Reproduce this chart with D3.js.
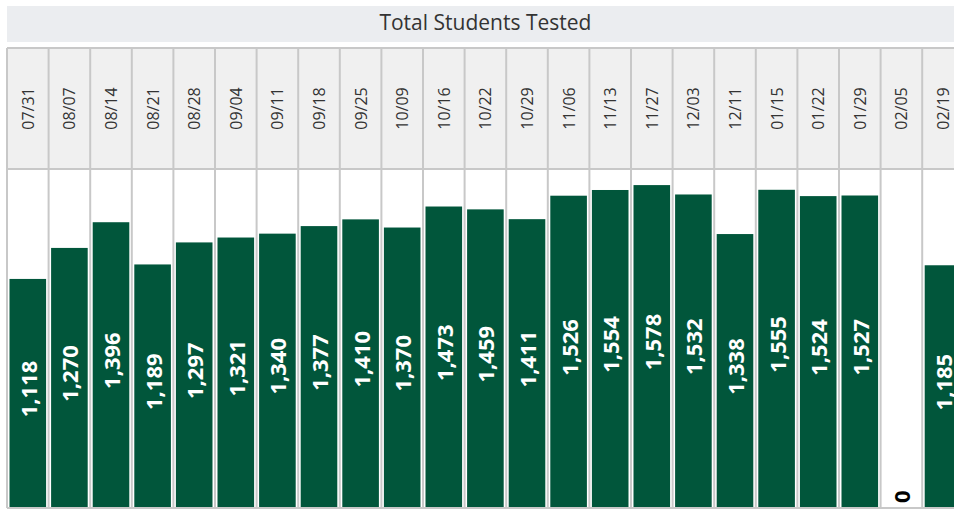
<!DOCTYPE html>
<html>
<head>
<meta charset="utf-8">
<script src="https://cdn.jsdelivr.net/npm/d3@7"></script>
<style>
    html, body { margin: 0; padding: 0; background: #fff; overflow: hidden; }
    svg { display: block; }
</style>
</head>
<body>
<div id="chart"></div>
<script>
'use strict';

var title = 'Total Students Tested';

var weeks = ['07/31', '08/07', '08/14', '08/21', '08/28', '09/04', '09/11', '09/18',
    '09/25', '10/09', '10/16', '10/22', '10/29', '11/06', '11/13', '11/27', '12/03',
    '12/11', '01/15', '01/22', '01/29', '02/05', '02/19'];

var tested = [1118, 1270, 1396, 1189, 1297, 1321, 1340, 1377, 1410, 1370, 1473, 1459,
    1411, 1526, 1554, 1578, 1532, 1338, 1555, 1524, 1527, 0, 1185];

var Chart = function (el, labels, values) {
    this.el = el;
    this.labels = labels;
    this.values = values;
    this.w = 954;
    this.h = 510;
    this.left = 7;
    this.colW = 41.6;
    this.headTop = 48;
    this.plotTop = 169;
    this.plotBottom = 507;
    this.padding = 2.5;
};

Chart.prototype = {
    init: function () {
        this.renderChart();
    },

    renderChart: function () {
        var self = this;
        var svg = d3.select(this.el)
            .append('svg')
            .attr('width', this.w)
            .attr('height', this.h);

        var right = this.left + this.labels.length * this.colW;

        var x = d3.scaleBand()
            .domain(this.labels)
            .range([this.left, right])
            .padding(0);

        // max * 1.05 leaves the headroom above the tallest bar
        var y = d3.scaleLinear()
            .domain([0, d3.max(this.values) * 1.05])
            .range([this.plotBottom, this.plotTop]);

        var data = this.labels.map(function (l, i) {
            return { label: l, value: self.values[i] };
        });

        // title bar
        svg.append('rect')
            .attr('x', this.left)
            .attr('y', 6)
            .attr('width', right - this.left)
            .attr('height', 36)
            .attr('fill', '#ebedf0');

        svg.append('text')
            .attr('x', (this.left + right) / 2)
            .attr('y', 22)
            .attr('text-anchor', 'middle')
            .attr('dominant-baseline', 'central')
            .style('font-family', 'Open Sans, sans-serif')
            .style('font-size', '21px')
            .attr('fill', '#333')
            .text(title);

        // header cells
        svg.selectAll('rect.head')
            .data(data)
            .enter()
            .append('rect')
            .attr('class', 'head')
            .attr('x', function (d) { return x(d.label); })
            .attr('y', this.headTop)
            .attr('width', x.bandwidth())
            .attr('height', this.plotTop - this.headTop)
            .attr('fill', '#f0f0f0');

        svg.selectAll('text.head')
            .data(data)
            .enter()
            .append('text')
            .attr('class', 'head')
            .attr('transform', function (d) {
                return 'translate(' + (x(d.label) + x.bandwidth() / 2) + ',' +
                    ((self.headTop + self.plotTop) / 2) + ') rotate(-90)';
            })
            .attr('text-anchor', 'middle')
            .attr('dominant-baseline', 'central')
            .style('font-family', 'Open Sans, sans-serif')
            .style('font-size', '16px')
            .attr('fill', '#333')
            .text(function (d) { return d.label; });

        // bars
        svg.selectAll('rect.bar')
            .data(data)
            .enter()
            .append('rect')
            .attr('class', 'bar')
            .attr('x', function (d) { return x(d.label) + self.padding; })
            .attr('y', function (d) { return y(d.value); })
            .attr('width', x.bandwidth() - 2 * self.padding)
            .attr('height', function (d) { return y(0) - y(d.value); })
            .attr('fill', '#01563b');

        // grid lines
        var edges = this.labels.map(function (l) { return x(l); }).concat([right]);
        svg.selectAll('line.v')
            .data(edges)
            .enter()
            .append('line')
            .attr('class', 'v')
            .attr('x1', function (d) { return d; })
            .attr('x2', function (d) { return d; })
            .attr('y1', this.headTop)
            .attr('y2', this.plotBottom + 1)
            .attr('stroke', '#c8c8c8')
            .attr('stroke-width', 2);

        svg.selectAll('line.h')
            .data([this.headTop, this.plotTop, this.plotBottom + 1])
            .enter()
            .append('line')
            .attr('class', 'h')
            .attr('x1', this.left)
            .attr('x2', right)
            .attr('y1', function (d) { return d; })
            .attr('y2', function (d) { return d; })
            .attr('stroke', '#c8c8c8')
            .attr('stroke-width', 2);

        // value labels
        var fmt = d3.format(',');
        svg.selectAll('text.val')
            .data(data)
            .enter()
            .append('text')
            .attr('class', 'val')
            .attr('transform', function (d) {
                var cy = d.value > 0 ? (y(d.value) + y(0)) / 2 - 4 : y(0) - 4;
                return 'translate(' + (x(d.label) + x.bandwidth() / 2) + ',' + cy + ') rotate(-90)';
            })
            .attr('text-anchor', function (d) { return d.value > 0 ? 'middle' : 'start'; })
            .attr('dominant-baseline', 'central')
            .style('font-family', 'Open Sans, sans-serif')
            .style('font-size', '22px')
            .style('font-weight', 'bold')
            .attr('fill', function (d) { return d.value > 0 ? '#fff' : '#000'; })
            .text(function (d) { return fmt(d.value); });
    }
};

new Chart('#chart', weeks, tested).init();
</script>
</body>
</html>
